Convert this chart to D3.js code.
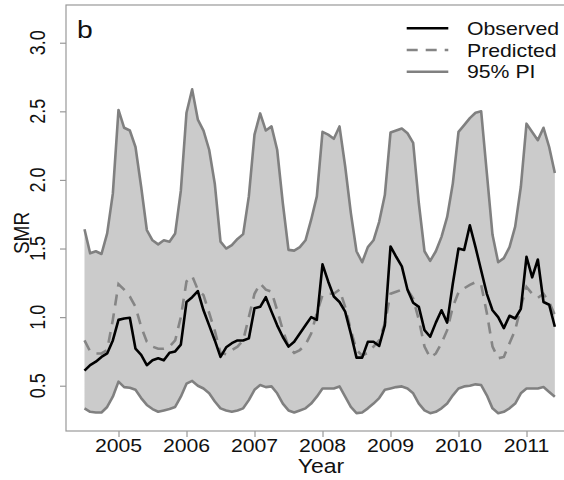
<!DOCTYPE html>
<html>
<head>
<meta charset="utf-8">
<script src="https://cdn.jsdelivr.net/npm/d3@7"></script>
<style>
  html, body { margin: 0; padding: 0; background: #fff; }
  svg { display: block; }
  text { font-family: "Liberation Sans", Arial, Helvetica, sans-serif; fill: #111; }
</style>
</head>
<body>
<script>
// ---- Data (monthly, July 2004 .. June 2011) ----
const startYear = 2004, startMonth = 7; // July 2004
const observed = [0.61,0.65,0.675,0.71,0.735,0.83,0.98,0.99,0.995,0.77,0.725,0.65,
  0.685,0.70,0.685,0.74,0.75,0.80,1.11,1.145,1.19,1.05,0.94,0.83,
  0.71,0.78,0.81,0.83,0.83,0.845,1.065,1.075,1.145,1.04,0.94,0.855,
  0.785,0.82,0.88,0.94,1.00,0.98,1.385,1.26,1.15,1.11,1.04,0.88,
  0.705,0.705,0.82,0.82,0.79,0.94,1.515,1.44,1.37,1.20,1.105,1.075,
  0.905,0.857,0.96,1.05,0.96,1.245,1.50,1.49,1.67,1.51,1.34,1.17,
  1.05,1.00,0.92,1.01,0.99,1.06,1.44,1.29,1.42,1.11,1.09,0.93];
const predicted = [0.83,0.75,0.735,0.735,0.76,0.98,1.24,1.20,1.15,1.075,0.93,0.82,
  0.785,0.77,0.77,0.785,0.83,1.00,1.26,1.30,1.20,1.16,1.03,0.90,
  0.74,0.73,0.76,0.785,0.83,1.00,1.17,1.245,1.20,1.185,1.05,0.905,
  0.785,0.74,0.76,0.80,0.88,1.03,1.16,1.17,1.17,1.20,1.075,0.905,
  0.76,0.72,0.74,0.785,0.83,0.955,1.17,1.185,1.20,1.20,1.135,0.98,
  0.785,0.705,0.735,0.81,0.905,1.075,1.18,1.21,1.235,1.255,1.235,1.03,
  0.785,0.70,0.71,0.81,0.905,1.075,1.22,1.17,1.14,1.17,1.11,1.015];
const lowerPI = [0.335,0.31,0.305,0.305,0.345,0.42,0.53,0.49,0.485,0.47,0.41,0.36,
  0.33,0.31,0.32,0.33,0.345,0.42,0.515,0.535,0.50,0.48,0.445,0.385,
  0.335,0.32,0.31,0.32,0.335,0.395,0.47,0.505,0.49,0.495,0.445,0.37,
  0.32,0.305,0.32,0.335,0.37,0.42,0.48,0.48,0.48,0.495,0.42,0.345,
  0.30,0.305,0.335,0.37,0.41,0.47,0.48,0.49,0.495,0.48,0.445,0.37,
  0.32,0.30,0.31,0.335,0.37,0.43,0.48,0.495,0.50,0.51,0.505,0.43,
  0.335,0.30,0.31,0.335,0.37,0.445,0.48,0.48,0.48,0.49,0.455,0.42];
const upperPI = [1.64,1.465,1.48,1.46,1.61,1.90,2.51,2.38,2.36,2.24,1.95,1.635,
  1.56,1.53,1.56,1.55,1.61,1.92,2.49,2.66,2.44,2.36,2.22,1.97,
  1.55,1.50,1.525,1.57,1.605,1.88,2.33,2.485,2.36,2.39,2.22,1.83,
  1.49,1.485,1.51,1.56,1.71,1.88,2.35,2.33,2.30,2.39,2.10,1.76,
  1.48,1.40,1.51,1.56,1.695,1.89,2.345,2.36,2.375,2.34,2.27,1.83,
  1.48,1.41,1.48,1.585,1.73,1.975,2.35,2.40,2.45,2.49,2.50,2.05,
  1.60,1.40,1.43,1.51,1.66,1.95,2.41,2.35,2.29,2.38,2.24,2.05];
const xTicks = [2005, 2006, 2007, 2008, 2009, 2010, 2011];
const yTicks = [0.5, 1.0, 1.5, 2.0, 2.5, 3.0];
const yTickLabels = ["0.5", "1.0", "1.5", "2.0", "2.5", "3.0"];
const legendLabels = ["Observed", "Predicted", "95% PI"];

// ---- Layout ----
const W = 564, H = 480;
const SX = 1.18; // horizontal stretch of the original raster text
const svg = d3.select("body").append("svg").attr("width", W).attr("height", H);

const x = d3.scaleLinear().domain([2004.228, 2011.694]).range([66, 573.7]);
const y = d3.scaleLinear().domain([0.17, 3.275]).range([431, 5]);

const t = i => startYear + (startMonth - 1) / 12 + i / 12;
const idx = d3.range(observed.length);
const DASH = "11,8";

// PI band
const area = d3.area().x(i => x(t(i))).y0(i => y(lowerPI[i])).y1(i => y(upperPI[i]));
svg.append("path").datum(idx).attr("d", area).attr("fill", "#cbcbcb");

const line = arr => d3.line().x(i => x(t(i))).y(i => y(arr[i]));
svg.append("path").datum(idx).attr("d", line(upperPI))
  .attr("fill", "none").attr("stroke", "#808080").attr("stroke-width", 2.6).attr("stroke-linejoin", "round");
svg.append("path").datum(idx).attr("d", line(lowerPI))
  .attr("fill", "none").attr("stroke", "#808080").attr("stroke-width", 2.6).attr("stroke-linejoin", "round");
svg.append("path").datum(idx).attr("d", line(predicted))
  .attr("fill", "none").attr("stroke", "#858585").attr("stroke-width", 2.6)
  .attr("stroke-dasharray", DASH);
svg.append("path").datum(idx).attr("d", line(observed))
  .attr("fill", "none").attr("stroke", "#000").attr("stroke-width", 2.6).attr("stroke-linejoin", "round");

// Frame
const [fx0, fx1] = x.range(), [fy0, fy1] = y.range();
svg.append("rect").attr("x", fx0).attr("y", fy1).attr("width", fx1 - fx0).attr("height", fy0 - fy1)
  .attr("fill", "none").attr("stroke", "#999").attr("stroke-width", 1.2);

// Axes (ticks)
const xAxis = d3.axisBottom(x).tickValues(xTicks).tickSize(6).tickFormat("");
const gx = svg.append("g").attr("transform", `translate(0,${fy0})`).call(xAxis);
gx.select(".domain").remove();
gx.selectAll("line").attr("stroke", "#999").attr("stroke-width", 1.2);
const yAxis = d3.axisLeft(y).tickValues(yTicks).tickSize(6).tickFormat("");
const gy = svg.append("g").attr("transform", `translate(${fx0},0)`).call(yAxis);
gy.select(".domain").remove();
gy.selectAll("line").attr("stroke", "#999").attr("stroke-width", 1.2);

// Text helper with horizontal stretch
function txt(str, tx, ty, size, anchor, rotate) {
  return svg.append("text")
    .attr("transform", `translate(${tx},${ty}) scale(${SX},1)` + (rotate ? " rotate(-90)" : ""))
    .attr("text-anchor", anchor).attr("font-size", size).text(str);
}
xTicks.forEach(v => txt(String(v), x(v), 452, 18, "middle", false));
yTicks.forEach((v, k) => txt(yTickLabels[k], 45, y(v), 18, "middle", true));
txt("SMR", 29, 233, 19, "middle", true);
txt("Year", 321, 473, 19.5, "middle", false);
txt("b", 77, 38, 24, "start", false);

// Legend
const legY = [28.3, 50, 71.7];
const legStyles = [
  {stroke: "#000", dash: null},
  {stroke: "#858585", dash: DASH},
  {stroke: "#808080", dash: null}
];
legendLabels.forEach((lab, k) => {
  svg.append("line").attr("x1", 406.7).attr("x2", 448.3).attr("y1", legY[k]).attr("y2", legY[k])
    .attr("stroke", legStyles[k].stroke).attr("stroke-width", 2.6)
    .attr("stroke-dasharray", legStyles[k].dash);
  txt(lab, 467, legY[k] + 6.7, 18, "start", false);
});
</script>
</body>
</html>
